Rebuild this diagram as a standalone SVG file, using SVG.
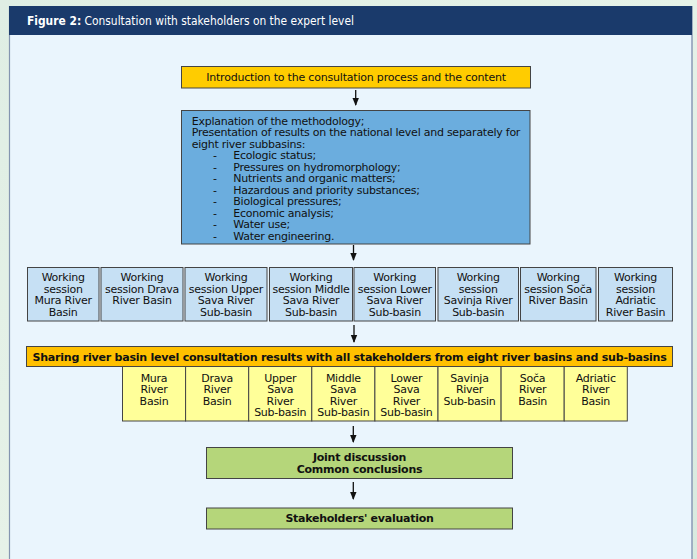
<svg xmlns="http://www.w3.org/2000/svg" width="697" height="559" viewBox="0 0 697 559">
<defs>
<linearGradient id="bg" x1="0" y1="0" x2="1" y2="1">
<stop offset="0" stop-color="#dfeee4"/>
<stop offset="0.5" stop-color="#e6f2e8"/>
<stop offset="1" stop-color="#d8eadf"/>
</linearGradient>
<marker id="ah" viewBox="0 0 8 8" refX="7" refY="4" markerWidth="8" markerHeight="8" markerUnits="userSpaceOnUse" orient="auto">
<path d="M0,0.8 L8,4 L0,7.2 Z" fill="#111"/>
</marker>
<style>
.t{font-family:"DejaVu Sans",Verdana,sans-serif;font-size:11px;letter-spacing:-0.25px;fill:#111}
.c{text-anchor:middle}
.b{font-weight:bold}
.box{stroke:#444;stroke-width:1}
.ws{fill:#c6e0f4}
.yl{fill:#ffff99}
.gr{fill:#b5d67a}
.cn{stroke:#111;stroke-width:1.3;fill:none;marker-end:url(#ah)}
</style>
</defs>
<rect x="0" y="0" width="697" height="559" fill="url(#bg)"/>
<rect x="9" y="6" width="683" height="560" fill="#eaf5fd"/>
<line x1="9.5" y1="6" x2="9.5" y2="559" stroke="#8495b0" stroke-width="1.2"/>
<line x1="692" y1="6" x2="692" y2="559" stroke="#8a98b6" stroke-width="1.5"/>
<rect x="9" y="6" width="683" height="29" fill="#1a3a6b"/>
<text x="27" y="25" textLength="327" lengthAdjust="spacingAndGlyphs" style="font-family:'DejaVu Sans',Verdana,sans-serif;font-size:11.5px;fill:#ffffff"><tspan font-weight="bold">Figure 2:</tspan> Consultation with stakeholders on the expert level</text>

<g id="connectors">
<line class="cn" x1="355.7" y1="90" x2="355.7" y2="105"/>
<line class="cn" x1="353.5" y1="245" x2="353.5" y2="260"/>
<line class="cn" x1="354" y1="325" x2="354" y2="342"/>
<line class="cn" x1="353.3" y1="426" x2="353.3" y2="442"/>
<line class="cn" x1="353.3" y1="482" x2="353.3" y2="499"/>
</g>

<g id="intro">
<rect class="box" x="181.5" y="66.5" width="349" height="21.5" fill="#ffcc00"/>
<text class="t c" x="356" y="81" style="letter-spacing:-0.2px">Introduction to the consultation process and the content</text>
</g>

<g id="methodology">
<rect class="box" x="181.5" y="110.5" width="348.5" height="133.5" fill="#6badde"/>
<text class="t" x="191.7" y="124.5">Explanation of the methodology;</text>
<text class="t" x="191.7" y="136">Presentation of results on the national level and separately for</text>
<text class="t" x="191.7" y="147.5">eight river subbasins:</text>
<g class="t">
<text x="213" y="159">-</text><text x="233.3" y="159">Ecologic status;</text>
<text x="213" y="170.5">-</text><text x="233.3" y="170.5">Pressures on hydromorphology;</text>
<text x="213" y="182">-</text><text x="233.3" y="182">Nutrients and organic matters;</text>
<text x="213" y="193.5">-</text><text x="233.3" y="193.5">Hazardous and priority substances;</text>
<text x="213" y="205">-</text><text x="233.3" y="205">Biological pressures;</text>
<text x="213" y="216.5">-</text><text x="233.3" y="216.5">Economic analysis;</text>
<text x="213" y="228">-</text><text x="233.3" y="228">Water use;</text>
<text x="213" y="239.5">-</text><text x="233.3" y="239.5">Water engineering.</text>
</g>
</g>

<g id="ws-mura">
<rect class="box ws" x="27.5" y="267.5" width="71.5" height="53.5"/>
<text class="t c" x="63.2" y="281">Working<tspan x="63.2" dy="11.5">session</tspan><tspan x="63.2" dy="11.5">Mura River</tspan><tspan x="63.2" dy="11.5">Basin</tspan></text>
</g>
<g id="ws-drava">
<rect class="box ws" x="101" y="267.5" width="82" height="53.5"/>
<text class="t c" x="142" y="281">Working<tspan x="142" dy="11.5">session Drava</tspan><tspan x="142" dy="11.5">River Basin</tspan></text>
</g>
<g id="ws-upper-sava">
<rect class="box ws" x="185" y="267.5" width="82" height="53.5"/>
<text class="t c" x="226" y="281">Working<tspan x="226" dy="11.5">session Upper</tspan><tspan x="226" dy="11.5">Sava River</tspan><tspan x="226" dy="11.5">Sub-basin</tspan></text>
</g>
<g id="ws-middle-sava">
<rect class="box ws" x="269.5" y="267.5" width="83" height="53.5"/>
<text class="t c" x="311" y="281">Working<tspan x="311" dy="11.5">session Middle</tspan><tspan x="311" dy="11.5">Sava River</tspan><tspan x="311" dy="11.5">Sub-basin</tspan></text>
</g>
<g id="ws-lower-sava">
<rect class="box ws" x="354" y="267.5" width="81.5" height="53.5"/>
<text class="t c" x="394.8" y="281">Working<tspan x="394.8" dy="11.5">session Lower</tspan><tspan x="394.8" dy="11.5">Sava River</tspan><tspan x="394.8" dy="11.5">Sub-basin</tspan></text>
</g>
<g id="ws-savinja">
<rect class="box ws" x="438" y="267.5" width="80.5" height="53.5"/>
<text class="t c" x="478.2" y="281">Working<tspan x="478.2" dy="11.5">session</tspan><tspan x="478.2" dy="11.5">Savinja River</tspan><tspan x="478.2" dy="11.5">Sub-basin</tspan></text>
</g>
<g id="ws-soca">
<rect class="box ws" x="520.5" y="267.5" width="75.5" height="53.5"/>
<text class="t c" x="558.2" y="281">Working<tspan x="558.2" dy="11.5">session Soča</tspan><tspan x="558.2" dy="11.5">River Basin</tspan></text>
</g>
<g id="ws-adriatic">
<rect class="box ws" x="598.5" y="267.5" width="74" height="53.5"/>
<text class="t c" x="635.5" y="281">Working<tspan x="635.5" dy="11.5">session</tspan><tspan x="635.5" dy="11.5">Adriatic</tspan><tspan x="635.5" dy="11.5">River Basin</tspan></text>
</g>

<g id="sharing">
<rect class="box" x="26.5" y="346.5" width="646" height="20" fill="#ffc000"/>
<text class="t c b" x="349.5" y="360.5" textLength="634" lengthAdjust="spacingAndGlyphs">Sharing river basin level consultation results with all stakeholders from eight river basins and sub-basins</text>
</g>

<g id="rb-mura">
<rect class="box yl" x="122.5" y="366.5" width="63.1" height="54.5"/>
<text class="t c" x="154" y="381.5">Mura<tspan x="154" dy="11.5">River</tspan><tspan x="154" dy="11.5">Basin</tspan></text>
</g>
<g id="rb-drava">
<rect class="box yl" x="185.6" y="366.5" width="63.1" height="54.5"/>
<text class="t c" x="217.1" y="381.5">Drava<tspan x="217.1" dy="11.5">River</tspan><tspan x="217.1" dy="11.5">Basin</tspan></text>
</g>
<g id="rb-upper-sava">
<rect class="box yl" x="248.7" y="366.5" width="63.1" height="54.5"/>
<text class="t c" x="280.2" y="381.5">Upper<tspan x="280.2" dy="11.5">Sava</tspan><tspan x="280.2" dy="11.5">River</tspan><tspan x="280.2" dy="11.5">Sub-basin</tspan></text>
</g>
<g id="rb-middle-sava">
<rect class="box yl" x="311.8" y="366.5" width="63.1" height="54.5"/>
<text class="t c" x="343.3" y="381.5">Middle<tspan x="343.3" dy="11.5">Sava</tspan><tspan x="343.3" dy="11.5">River</tspan><tspan x="343.3" dy="11.5">Sub-basin</tspan></text>
</g>
<g id="rb-lower-sava">
<rect class="box yl" x="374.9" y="366.5" width="63.1" height="54.5"/>
<text class="t c" x="406.4" y="381.5">Lower<tspan x="406.4" dy="11.5">Sava</tspan><tspan x="406.4" dy="11.5">River</tspan><tspan x="406.4" dy="11.5">Sub-basin</tspan></text>
</g>
<g id="rb-savinja">
<rect class="box yl" x="438" y="366.5" width="63.1" height="54.5"/>
<text class="t c" x="469.5" y="381.5">Savinja<tspan x="469.5" dy="11.5">River</tspan><tspan x="469.5" dy="11.5">Sub-basin</tspan></text>
</g>
<g id="rb-soca">
<rect class="box yl" x="501.1" y="366.5" width="63.1" height="54.5"/>
<text class="t c" x="532.6" y="381.5">Soča<tspan x="532.6" dy="11.5">River</tspan><tspan x="532.6" dy="11.5">Basin</tspan></text>
</g>
<g id="rb-adriatic">
<rect class="box yl" x="564.2" y="366.5" width="63.1" height="54.5"/>
<text class="t c" x="595.7" y="381.5">Adriatic<tspan x="595.7" dy="11.5">River</tspan><tspan x="595.7" dy="11.5">Basin</tspan></text>
</g>

<g id="joint">
<rect class="box gr" x="206.5" y="447.5" width="306" height="31"/>
<text class="t c b" x="359.5" y="461">Joint discussion<tspan x="359.5" dy="11.5">Common conclusions</tspan></text>
</g>
<g id="evaluation">
<rect class="box gr" x="206.5" y="508" width="306" height="21"/>
<text class="t c b" x="359.5" y="521.5">Stakeholders' evaluation</text>
</g>
</svg>
